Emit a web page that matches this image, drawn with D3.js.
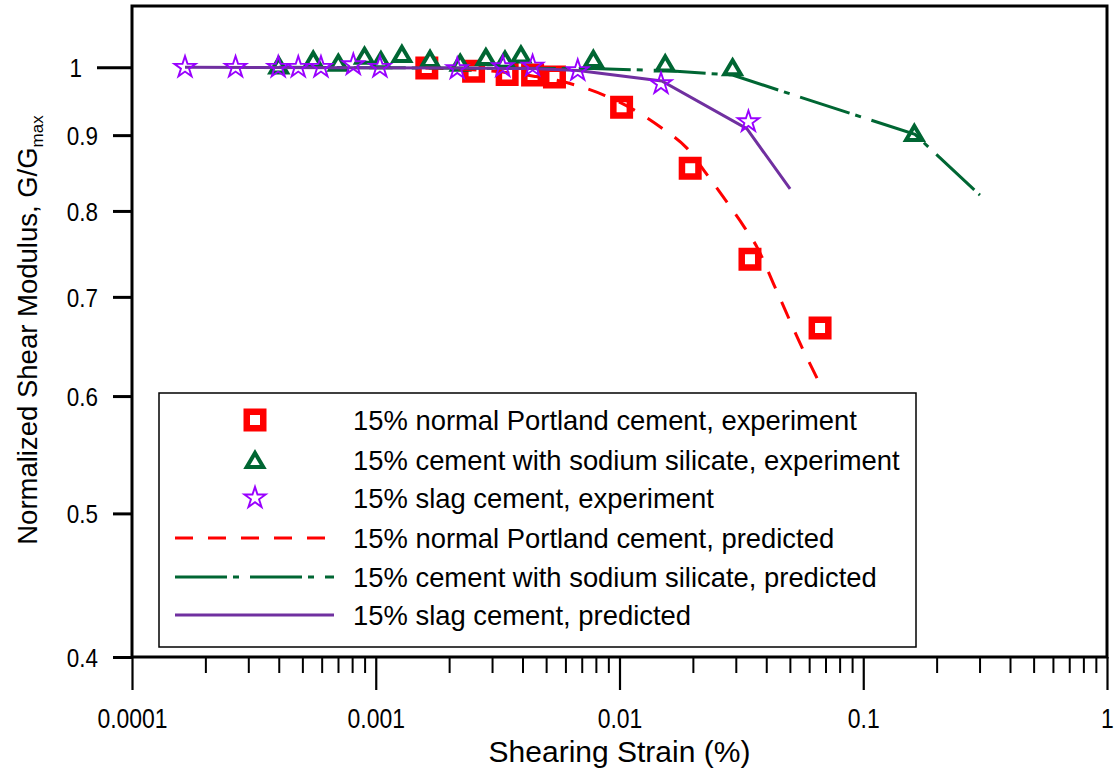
<!DOCTYPE html>
<html>
<head>
<meta charset="utf-8">
<script src="https://cdn.jsdelivr.net/npm/d3@7"></script>
<style>
  body { margin: 0; background: #fff; }
  svg { display: block; }
  text { font-family: "Liberation Sans", Arial, sans-serif; fill: #000; }
</style>
</head>
<body>
<svg id="chart" width="1114" height="772"></svg>
<script>
// Axis ticks
const xTicks = [0.0001, 0.001, 0.01, 0.1, 1];
const xTickLabels = ["0.0001", "0.001", "0.01", "0.1", "1"];
const yTicks = [0.4, 0.5, 0.6, 0.7, 0.8, 0.9, 1];
const yTickLabels = ["0.4", "0.5", "0.6", "0.7", "0.8", "0.9", "1"];

// 15% normal Portland cement, experiment
const opcExpStrain = [0.00162, 0.00252, 0.00346, 0.0044, 0.00541, 0.0102, 0.0195, 0.0343, 0.0665];
const opcExpG      = [0.999, 0.994, 0.989, 0.988, 0.985, 0.940, 0.855, 0.742, 0.667];

// 15% cement with sodium silicate, experiment
const silExpStrain = [0.00040, 0.000554, 0.000702, 0.000899, 0.00105, 0.00128, 0.00167, 0.00222,
                      0.00283, 0.00339, 0.00394, 0.00781, 0.0154, 0.0291, 0.162];
const silExpG      = [1.003, 1.012, 1.007, 1.018, 1.011, 1.021, 1.013, 1.007,
                      1.016, 1.012, 1.020, 1.013, 1.006, 1.000, 0.903];

// 15% slag cement, experiment
const slagExpStrain = [0.000165, 0.000266, 0.000398, 0.000481, 0.000596, 0.000809, 0.00104,
                       0.00216, 0.00332, 0.0044, 0.00674, 0.0148, 0.0338];
const slagExpG      = [1.0, 1.0, 1.0, 1.0, 1.0, 1.004, 1.0, 0.998, 1.001, 1.002, 0.995, 0.975, 0.919];

// Predicted curves
const opcPredStrain = [0.0016, 0.0026, 0.0036, 0.0045, 0.00554, 0.00872, 0.0116, 0.0149, 0.0189,
                       0.0229, 0.0276, 0.0327, 0.0367, 0.0434, 0.0561, 0.0646];
const opcPredG      = [0.999, 0.996, 0.991, 0.986, 0.980, 0.957, 0.935, 0.910, 0.882,
                       0.846, 0.811, 0.779, 0.756, 0.711, 0.647, 0.617];

const silPredStrain = [0.0004, 0.0078, 0.0154, 0.0291, 0.163, 0.301];
const silPredG      = [1.0, 0.998, 0.995, 0.988, 0.901, 0.820];

const slagPredStrain = [0.000165, 0.0022, 0.0044, 0.00676, 0.0149, 0.0333, 0.0501];
const slagPredG      = [1.0, 0.999, 0.998, 0.995, 0.979, 0.909, 0.828];

const legendLabels = [
  "15% normal Portland cement, experiment",
  "15% cement with sodium silicate, experiment",
  "15% slag cement, experiment",
  "15% normal Portland cement, predicted",
  "15% cement with sodium silicate, predicted",
  "15% slag cement, predicted"
];

const RED = "#ff0000", GREEN = "#006633", STAR = "#9900ff", PURPLE = "#7030a0";

const svg = d3.select("#chart");
const L = 132, R = 1107, T = 6, B = 657;

const x = d3.scaleLog().domain([0.0001, 1]).range([L, R]);
const y = d3.scaleLog().domain([0.4, 1.1]).range([B, T]);

const zip = (a, b) => a.map((v, i) => [v, b[i]]);

// Marker shapes
const sqSide = 16.5;
const squarePath = `M${-sqSide/2},${-sqSide/2}h${sqSide}v${sqSide}h${-sqSide}Z`;
const triW = 16.5, triH = 14;
const trianglePath = `M0,${-triH/2}L${triW/2},${triH/2}L${-triW/2},${triH/2}Z`;
const starPath = d3.symbol(d3.symbolStar, 140)();

function drawSquare(g) {
  g.append("path").attr("d", squarePath).attr("fill", "#fff")
    .attr("stroke", RED).attr("stroke-width", 6.5).attr("stroke-linejoin", "miter");
}
function drawTriangle(g) {
  g.append("path").attr("d", trianglePath).attr("fill", "#fff")
    .attr("stroke", GREEN).attr("stroke-width", 4).attr("stroke-linejoin", "miter");
}
function drawStar(g) {
  g.append("path").attr("d", starPath).attr("fill", "none")
    .attr("stroke", STAR).attr("stroke-width", 1.9);
}

// X axis: major and minor ticks
const minorTicks = [];
for (let e = -4; e < 0; e++) for (let m = 2; m <= 9; m++) minorTicks.push(m * Math.pow(10, e));

const xMinor = svg.append("g").attr("transform", `translate(0,${B})`)
  .call(d3.axisBottom(x).tickValues(minorTicks).tickSize(16).tickFormat(""));
xMinor.select(".domain").remove();
xMinor.selectAll("line").attr("stroke", "#000").attr("stroke-width", 2);

const xMajor = svg.append("g").attr("transform", `translate(0,${B})`)
  .call(d3.axisBottom(x).tickValues(xTicks).tickSize(33).tickPadding(0)
    .tickFormat((d, i) => xTickLabels[i]));
xMajor.select(".domain").remove();
xMajor.selectAll("line").attr("stroke", "#000").attr("stroke-width", 2.2);
xMajor.selectAll("text")
  .attr("y", 71.5).attr("dy", 0)
  .attr("font-size", 28)
  .attr("transform", "scale(0.82,1)")
  .attr("fill", "#000");

// Y axis
const yAxis = svg.append("g").attr("transform", `translate(${L},0)`)
  .call(d3.axisLeft(y).tickValues(yTicks).tickSize(19).tickPadding(0)
    .tickFormat((d, i) => yTickLabels[i]));
yAxis.select(".domain").remove();
yAxis.selectAll("line").attr("stroke", "#000").attr("stroke-width", 3);
yAxis.selectAll(".tick").each(function(d) {
  const tickLen = d === 1 ? 35 : 19;
  const sx = 0.88;
  d3.select(this).select("line").attr("x2", -tickLen);
  d3.select(this).select("text")
    .attr("x", (-tickLen - 15) / sx).attr("dy", "0.36em")
    .attr("font-size", 25.5)
    .attr("transform", `scale(${sx},1)`)
    .attr("fill", "#000");
});

// Frame
svg.append("rect").attr("x", L).attr("y", T).attr("width", R - L).attr("height", B - T)
  .attr("fill", "none").attr("stroke", "#000").attr("stroke-width", 3);

// Experimental markers
const plot = svg.append("g");
plot.selectAll("g.opc").data(zip(opcExpStrain, opcExpG)).join("g")
  .attr("class", "opc").attr("transform", d => `translate(${x(d[0])},${y(d[1])})`)
  .each(function() { drawSquare(d3.select(this)); });

plot.selectAll("g.sil").data(zip(silExpStrain, silExpG)).join("g")
  .attr("class", "sil").attr("transform", d => `translate(${x(d[0])},${y(d[1])})`)
  .each(function() { drawTriangle(d3.select(this)); });

// Predicted curves
const line = d3.line().x(d => x(d[0])).y(d => y(d[1]));
const smooth = d3.line().x(d => x(d[0])).y(d => y(d[1])).curve(d3.curveMonotoneX);

const redDash = "18,15", greenDash = "52,6,6,11";

plot.append("path").attr("d", smooth(zip(opcPredStrain, opcPredG)))
  .attr("fill", "none").attr("stroke", RED).attr("stroke-width", 3).attr("stroke-dasharray", redDash);
plot.append("path").attr("d", line(zip(silPredStrain, silPredG)))
  .attr("fill", "none").attr("stroke", GREEN).attr("stroke-width", 3).attr("stroke-dasharray", greenDash);
plot.append("path").attr("d", line(zip(slagPredStrain, slagPredG)))
  .attr("fill", "none").attr("stroke", PURPLE).attr("stroke-width", 3);

plot.selectAll("g.slag").data(zip(slagExpStrain, slagExpG)).join("g")
  .attr("class", "slag").attr("transform", d => `translate(${x(d[0])},${y(d[1])})`)
  .each(function() { drawStar(d3.select(this)); });

// Legend
const leg = svg.append("g");
leg.append("rect").attr("x", 159).attr("y", 393).attr("width", 757).attr("height", 254)
  .attr("fill", "#fff").attr("stroke", "#000").attr("stroke-width", 1.5);
const rowY = [420, 460, 498, 538, 577, 615];
const symX = 255, lineX0 = 175, lineX1 = 334, textX = 353;
const legendItems = [
  { kind: "marker", draw: drawSquare },
  { kind: "marker", draw: drawTriangle },
  { kind: "marker", draw: drawStar },
  { kind: "line", stroke: RED, dash: redDash },
  { kind: "line", stroke: GREEN, dash: greenDash },
  { kind: "line", stroke: PURPLE, dash: null }
];
legendItems.forEach((it, i) => {
  if (it.kind === "marker") {
    it.draw(leg.append("g").attr("transform", `translate(${symX},${rowY[i]})`));
  } else {
    leg.append("line").attr("x1", lineX0).attr("x2", lineX1).attr("y1", rowY[i]).attr("y2", rowY[i])
      .attr("stroke", it.stroke).attr("stroke-width", 3)
      .attr("stroke-dasharray", it.dash);
  }
  leg.append("text").attr("x", textX).attr("y", rowY[i]).attr("dy", "0.36em")
    .attr("font-size", 27.4).text(legendLabels[i]);
});

// Axis titles
svg.append("text").attr("x", 619.5).attr("y", 762).attr("text-anchor", "middle")
  .attr("font-size", 30).text("Shearing Strain (%)");

const yt = svg.append("text").attr("transform", "translate(37,330) rotate(-90)")
  .attr("text-anchor", "middle").attr("font-size", 27.5);
yt.append("tspan").text("Normalized Shear Modulus, G/G");
yt.append("tspan").attr("font-size", 17).attr("dy", 6).text("max");
</script>
</body>
</html>
